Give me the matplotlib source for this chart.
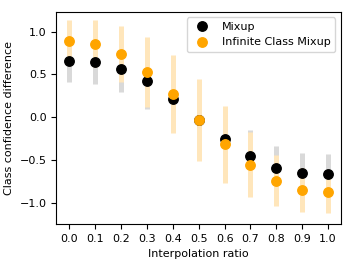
import matplotlib
matplotlib.use("Agg")
import matplotlib.pyplot as plt

ratios = [0.0, 0.1, 0.2, 0.3, 0.4, 0.5, 0.6, 0.7, 0.8, 0.9, 1.0]
mixup = [0.66, 0.64, 0.56, 0.42, 0.21, -0.03, -0.26, -0.46, -0.59, -0.65, -0.67]
mixup_err = [0.25, 0.25, 0.27, 0.33, 0.11, 0.10, 0.10, 0.31, 0.25, 0.23, 0.24]
icm = [0.885, 0.86, 0.74, 0.53, 0.27, -0.03, -0.32, -0.56, -0.745, -0.85, -0.875]
icm_err = [0.25, 0.27, 0.33, 0.41, 0.46, 0.48, 0.45, 0.38, 0.30, 0.26, 0.25]

fig, ax = plt.subplots(figsize=(3.53, 2.65), dpi=100)
# light solid colours so the orange bars hide the grey ones underneath
ax.errorbar(ratios, mixup, yerr=mixup_err, fmt="none", ecolor="#d9d9d9",
            elinewidth=3.6, zorder=1)
ax.errorbar(ratios, icm, yerr=icm_err, fmt="none", ecolor="#ffe6bb",
            elinewidth=3.6, zorder=2)
ax.plot(ratios, mixup, "o", color="black", markersize=6.8, label="Mixup", zorder=3)
ax.plot(ratios, icm, "o", color="orange", markersize=6.8,
        label="Infinite Class Mixup", zorder=4)

ax.set_xticks(ratios)
ax.set_xticklabels([f"{r:.1f}" for r in ratios])
ax.set_yticks([-1.0, -0.5, 0.0, 0.5, 1.0])
ax.set_ylim(-1.25, 1.23)
ax.tick_params(labelsize=8)
ax.set_xlabel("Interpolation ratio", fontsize=8)
ax.set_ylabel("Class confidence difference", fontsize=8)
ax.legend(loc="upper right", fontsize=8)
fig.subplots_adjust(left=0.16, right=0.966, top=0.955, bottom=0.155)
fig.savefig("out.png")
